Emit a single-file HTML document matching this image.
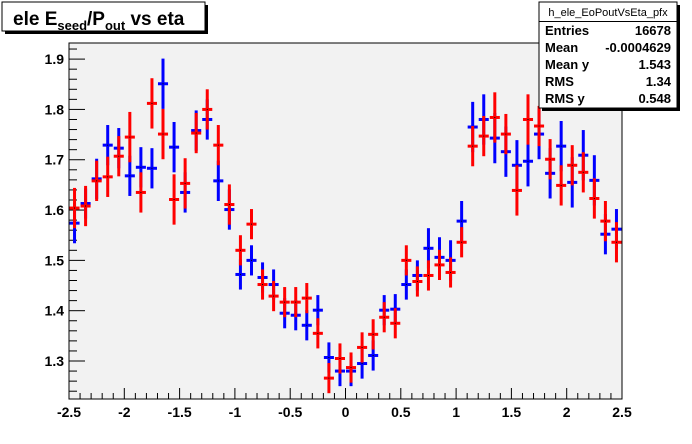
<!DOCTYPE html>
<html><head><meta charset="utf-8"><style>
html,body{margin:0;padding:0;background:#fff;}
svg{display:block;font-family:"Liberation Sans",Arial,sans-serif;}
</style></head><body>
<svg id="chart" width="692" height="444" viewBox="0 0 692 444" xmlns="http://www.w3.org/2000/svg">
<rect x="0" y="0" width="692" height="444" fill="#ffffff"/>
<rect x="69" y="43" width="553" height="356" fill="#f2f2f2" stroke="#000" stroke-width="1"/>
<g id="axes"></g>
<g id="marks"></g>
<g>
<rect x="5" y="5" width="203" height="29" fill="#000"/>
<rect x="2" y="2" width="203" height="29" fill="#ffffff" stroke="#000" stroke-width="1"/>
<text x="13" y="25" font-size="19" font-weight="bold">ele E<tspan font-size="13" dy="5">seed</tspan><tspan dy="-5">/P</tspan><tspan font-size="13" dy="5">out</tspan><tspan dy="-5"> vs eta</tspan></text>
</g>
<g>
<rect x="542" y="5" width="138" height="106" fill="#000"/>
<rect x="539" y="2" width="138" height="106" fill="#ffffff" stroke="#000" stroke-width="1"/>
<line x1="539" y1="21.5" x2="677" y2="21.5" stroke="#000"/>
<text x="608" y="16" font-size="11" text-anchor="middle">h_ele_EoPoutVsEta_pfx</text>
<g font-size="13" font-weight="bold">
<text x="545" y="35">Entries</text><text x="671" y="35" text-anchor="end">16678</text>
<text x="545" y="52">Mean</text><text x="671" y="52" text-anchor="end">-0.0004629</text>
<text x="545" y="69">Mean y</text><text x="671" y="69" text-anchor="end">1.543</text>
<text x="545" y="86">RMS</text><text x="671" y="86" text-anchor="end">1.34</text>
<text x="545" y="103">RMS y</text><text x="671" y="103" text-anchor="end">0.548</text>
</g>
</g>
</svg>
<script>
const xTicks = [-2.5,-2,-1.5,-1,-0.5,0,0.5,1,1.5,2,2.5];
const xTickLabels = ["-2.5","-2","-1.5","-1","-0.5","0","0.5","1","1.5","2","2.5"];
const yTicks = [1.3,1.4,1.5,1.6,1.7,1.8,1.9];
const yTickLabels = ["1.3","1.4","1.5","1.6","1.7","1.8","1.9"];
const blueVals = [1.574,1.613,1.662,1.729,1.723,1.668,1.685,1.683,1.851,1.725,1.635,1.758,1.780,1.658,1.601,1.472,1.500,1.466,1.452,1.395,1.391,1.371,1.401,1.307,1.280,1.280,1.295,1.311,1.401,1.403,1.452,1.470,1.524,1.506,1.500,1.578,1.765,1.780,1.743,1.716,1.689,1.697,1.751,1.673,1.727,1.655,1.709,1.659,1.552,1.562];
const blueErr = [0.04,0.03,0.04,0.04,0.04,0.04,0.04,0.04,0.05,0.05,0.04,0.04,0.04,0.04,0.04,0.03,0.03,0.03,0.03,0.03,0.03,0.03,0.03,0.03,0.03,0.03,0.03,0.03,0.03,0.03,0.03,0.03,0.04,0.04,0.04,0.04,0.05,0.05,0.05,0.05,0.05,0.05,0.05,0.05,0.05,0.05,0.05,0.05,0.04,0.04];
const redVals = [1.604,1.608,1.658,1.666,1.707,1.745,1.635,1.812,1.751,1.621,1.653,1.753,1.800,1.729,1.611,1.520,1.572,1.452,1.429,1.417,1.417,1.425,1.355,1.266,1.305,1.287,1.327,1.353,1.387,1.375,1.500,1.458,1.470,1.491,1.476,1.536,1.727,1.747,1.784,1.751,1.639,1.780,1.767,1.701,1.649,1.689,1.675,1.623,1.578,1.536];
const redErr = [0.04,0.04,0.04,0.04,0.04,0.05,0.04,0.05,0.05,0.05,0.05,0.04,0.04,0.04,0.04,0.03,0.03,0.03,0.03,0.03,0.03,0.03,0.03,0.03,0.03,0.03,0.03,0.03,0.03,0.03,0.03,0.03,0.03,0.03,0.03,0.03,0.04,0.04,0.05,0.04,0.05,0.05,0.04,0.04,0.04,0.04,0.04,0.04,0.04,0.04];
const xMin=-2.5,xMax=2.5,yMin=1.2245,yMax=1.932;
const X0=69,X1=622,Y0=399,Y1=43;
function sx(v){return X0+(v-xMin)/(xMax-xMin)*(X1-X0);}
function sy(v){return Y0-(v-yMin)/(yMax-yMin)*(Y0-Y1);}
const NS="http://www.w3.org/2000/svg";
function mk(tag,attrs,parent){const e=document.createElementNS(NS,tag);for(const k in attrs)e.setAttribute(k,attrs[k]);parent.appendChild(e);return e;}
const axes=document.getElementById('axes');
// x minor ticks
for(let i=0;i<=50;i++){const v=xMin+i*0.1;const major=(i%5===0);
 const t=mk('line',{x1:sx(v),x2:sx(v),y1:Y0,y2:Y0-(major?11:6),stroke:'#000','stroke-width':1},axes);
 
 }
for(let i=0;;i++){const v=yMin+0.0;break;}
for(let v=1.24;v<=1.93;v+=0.02){const vv=Math.round(v*100)/100;const major=Math.abs(vv*10-Math.round(vv*10))<1e-6;
 const t=mk('line',{x1:X0,x2:X0+(major?16:8),y1:sy(vv),y2:sy(vv),stroke:'#000','stroke-width':1},axes);
 
 }
xTicks.forEach((v,i)=>{const t=mk('text',{x:sx(v),y:417,'font-size':14,'font-weight':'bold','text-anchor':'middle'},axes);t.textContent=xTickLabels[i];
 
 });
yTicks.forEach((v,i)=>{const t=mk('text',{x:64,y:sy(v)+5,'font-size':14,'font-weight':'bold','text-anchor':'end'},axes);t.textContent=yTickLabels[i];
 
 });
const marks=document.getElementById('marks');
function drawSeries(vals,errs,color,name){
 vals.forEach((v,i)=>{const c=xMin+0.05+i*0.1;const cx=sx(c),cy=sy(v);
  const g=mk('g',{},marks);
  
  
  mk('line',{x1:cx,x2:cx,y1:sy(v+errs[i]),y2:sy(v-errs[i]),stroke:color,'stroke-width':3},g);
  mk('line',{x1:sx(c-0.05)+0.5,x2:sx(c+0.05)-0.5,y1:cy,y2:cy,stroke:color,'stroke-width':3},g);
  mk('rect',{x:cx-0.5,y:cy-0.5,width:1,height:1,fill:'#000'},g);
 });}
drawSeries(blueVals,blueErr,'#0000ff','blue-series');
drawSeries(redVals,redErr,'#ff0000','red-series');
</script>
</body></html>
